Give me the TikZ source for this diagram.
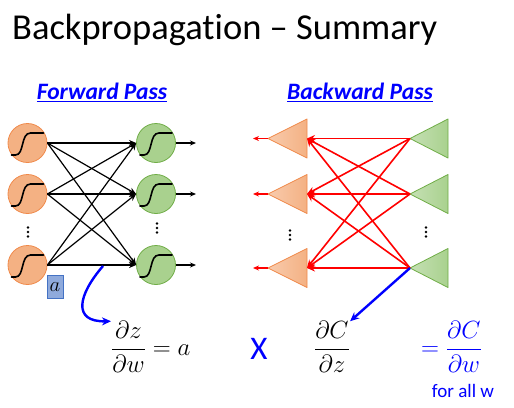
\documentclass[tikz,border=0pt]{standalone}
\usepackage{fontspec}
\setmainfont[Ligatures={NoCommon}]{Carlito}
\usetikzlibrary{arrows.meta,calc}
\definecolor{ofill}{HTML}{F4B183}
\definecolor{oline}{HTML}{F08A4B}
\definecolor{gfill}{HTML}{A9D18E}
\definecolor{gline}{HTML}{70AD47}
\definecolor{olight}{HTML}{F8CBAD}
\definecolor{glight}{HTML}{C5E0B4}
\definecolor{bblue}{HTML}{0000FF}
\definecolor{boxfill}{HTML}{8FAADC}
\definecolor{boxline}{HTML}{4472C4}
\tikzset{
  onode/.style={circle, fill=ofill, draw=oline, line width=0.8pt, minimum size=39pt, inner sep=0pt},
  gnode/.style={circle, fill=gfill, draw=gline, line width=0.8pt, minimum size=39pt, inner sep=0pt},
  fwd/.style={black, line width=1.2pt, -{Stealth[length=7pt,width=6pt]}},
  outarr/.style={black, line width=1.2pt, -{Stealth[length=6pt,width=5pt]}},
  bwd/.style={red, line width=1.6pt, -{Stealth[length=8pt,width=7pt]}},
  bout/.style={red, line width=1.6pt, -{Stealth[length=6pt,width=5pt]}},
  bluearr/.style={bblue, line width=2.4pt, -{Stealth[length=9pt,width=8pt]}},
  heading/.style={font=\fontsize{23.5}{26}\selectfont\bfseries\itshape, text=bblue, inner sep=0pt},
  dotmark/.style={circle, fill=black, inner sep=0pt, minimum size=2.6pt},
  sig/.style={black, line width=1.6pt, line cap=round},
  mathtxt/.style={font=\fontsize{24}{28}\selectfont, inner sep=0pt}
}
\newcommand{\sigcurve}[1]{\draw[sig] ($(#1)+(-16,12)$) -- ($(#1)+(-12,12)$) .. controls ($(#1)+(-3,12)$) and ($(#1)+(-7,-10)$) .. ($(#1)+(3,-10)$) -- ($(#1)+(16,-10)$);}
\newcommand{\threedots}[3]{\node[dotmark] (#1a) at (#2,#3-4.5) {};\node[dotmark] (#1b) at (#2,#3) {};\node[dotmark] (#1c) at (#2,#3+4.5) {};}
\begin{document}
\begin{tikzpicture}[x=1pt,y=-1pt]
\useasboundingbox (0,0) rectangle (514,407);
% title
\node[anchor=base west, inner sep=0pt, font=\fontsize{36.5}{40}\selectfont] (title) at (12,39) {Backpropagation – Summary};
% headings
\node[heading] (fp) at (102,92) {\underline{Forward Pass}};
\node[heading] (bp) at (360,92) {\underline{Backward Pass}};
% forward nodes
\node[onode] (i1) at (27.5,143) {};
\node[onode] (i2) at (27.5,194) {};
\node[onode] (i3) at (27.5,265) {};
\node[gnode] (h1) at (156,143) {};
\node[gnode] (h2) at (156,194) {};
\node[gnode] (h3) at (156,265) {};
\foreach \n in {i1,i2,i3,h1,h2,h3} {\sigcurve{\n}}
\threedots{d1}{28}{232}
\threedots{d2}{157}{228}
\foreach \a in {i1,i2,i3} {\foreach \b in {h1,h2,h3} {\draw[fwd] (\a.east) -- (\b.west);}}
\coordinate (o1) at (196,143);
\coordinate (o2) at (196,194);
\coordinate (o3) at (196,265);
\draw[outarr] (h1.east) -- (o1);
\draw[outarr] (h2.east) -- (o2);
\draw[outarr] (h3.east) -- (o3);
% a box
\node[fill=boxfill, draw=boxline, line width=0.6pt, minimum width=16pt, minimum height=23pt, inner sep=0pt, font=\fontsize{20}{20}\selectfont] (abox) at (55,287) {$a$};
% backward triangles
\foreach \n/\y in {1/138.5,2/194,3/268} {
  \coordinate (ta\n) at (268,\y);
  \coordinate (tb\n) at (307,\y);
  \shade[left color=olight, right color=ofill] (ta\n) -- ($(tb\n)+(0,-19.5)$) -- ($(tb\n)+(0,19.5)$) -- cycle;
  \draw[oline, line width=0.8pt, line join=round] (ta\n) -- ($(tb\n)+(0,-19.5)$) -- ($(tb\n)+(0,19.5)$) -- cycle;
  \coordinate (ga\n) at (410,\y);
  \coordinate (gb\n) at (448,\y);
  \shade[left color=glight, right color=gfill] (ga\n) -- ($(gb\n)+(0,-19.5)$) -- ($(gb\n)+(0,19.5)$) -- cycle;
  \draw[gline, line width=0.8pt, line join=round] (ga\n) -- ($(gb\n)+(0,-19.5)$) -- ($(gb\n)+(0,19.5)$) -- cycle;
  \coordinate (bo\n) at (253,\y);
  \draw[bout] (ta\n) -- (bo\n);
}
\foreach \a in {1,2,3} {\foreach \b in {1,2,3} {\draw[bwd] (ga\a) -- (tb\b);}}
\threedots{d3}{290}{235}
\threedots{d4}{426}{232}
% bottom formulas
\node[mathtxt, anchor=west] (f1) at (111,347) {$\displaystyle\frac{\partial z}{\partial w}=a$};
\node[font=\fontsize{33}{33}\selectfont, text=bblue, inner sep=0pt] (x) at (259,349) {X};
\node[mathtxt] (f2) at (332,347) {$\displaystyle\frac{\partial C}{\partial z}$};
\node[mathtxt, anchor=west, text=bblue] (f3) at (421,347) {$\displaystyle=\frac{\partial C}{\partial w}$};
\node[font=\fontsize{19}{19}\selectfont, text=bblue, inner sep=0pt] (fa) at (463,391) {for all w};
% blue arrows
\coordinate (s1) at (103,266);
\draw[bluearr] (s1) .. controls (78,295) and (72,322) .. (f1.north west);
\draw[bluearr] (ga3) -- (f2.north east);
\end{tikzpicture}
\end{document}
